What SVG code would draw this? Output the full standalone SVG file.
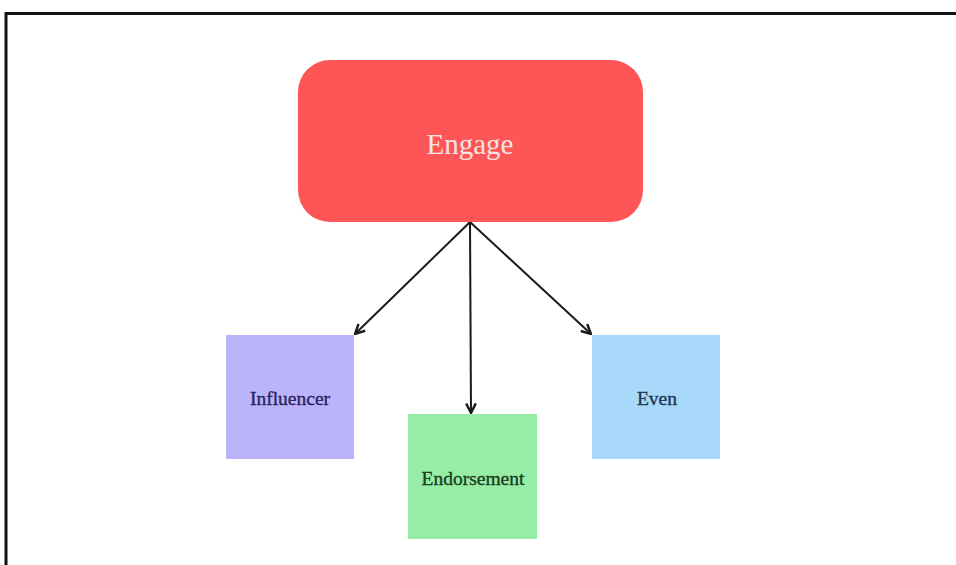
<svg xmlns="http://www.w3.org/2000/svg" width="956" height="565" viewBox="0 0 956 565">
  <style>
    .lbl { font-family: "Liberation Serif", "Times New Roman", serif; text-anchor: middle; }
    .small { font-size: 19.5px; stroke-width: 0.35px; }
    .edge { stroke: #1a1a1a; stroke-width: 2; fill: none; marker-end: url(#arrow); }
  </style>
  <defs>
    <marker id="arrow" viewBox="0 0 10 10" refX="9" refY="5" markerWidth="6" markerHeight="6" orient="auto">
      <path d="M1,1 L9,5 L1,9" fill="none" stroke="#1a1a1a" stroke-width="2"/>
    </marker>
  </defs>
  <rect width="956" height="565" fill="#ffffff"/>
  <!-- frame -->
  <path d="M6,565 V13.5 H956" fill="none" stroke="#111111" stroke-width="3"/>

  <g id="connectors">
    <line class="edge" x1="470" y1="222" x2="355" y2="334"/>
    <line class="edge" x1="470" y1="222" x2="471" y2="413"/>
    <line class="edge" x1="470" y1="222" x2="591" y2="334"/>
  </g>

  <g id="engage">
    <rect x="298" y="60" width="345" height="162" rx="32" fill="#fe5656"/>
    <text class="lbl" x="470" y="154" font-size="29" fill="#f6e4e4">Engage</text>
  </g>
  <g id="influencer">
    <rect x="226" y="335" width="128" height="124" fill="#bcb4fa"/>
    <text class="lbl small" x="290" y="405" fill="#2a2160" stroke="#2a2160">Influencer</text>
  </g>
  <g id="endorsement">
    <rect x="408" y="414" width="129" height="125" fill="#97eca6"/>
    <text class="lbl small" x="473" y="485" fill="#173d1d" stroke="#173d1d">Endorsement</text>
  </g>
  <g id="even">
    <rect x="592" y="335" width="128" height="124" fill="#a8d8fa"/>
    <text class="lbl small" x="657" y="405" fill="#1e3550" stroke="#1e3550">Even</text>
  </g>
</svg>
